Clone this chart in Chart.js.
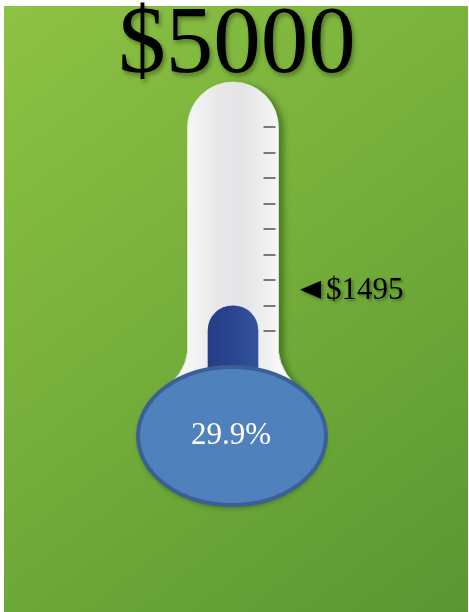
<!DOCTYPE html>
<html>
<head>
<meta charset="utf-8">
<script src="https://cdn.jsdelivr.net/npm/chart.js@4.4.1/dist/chart.umd.min.js"></script>
<style>
  html, body { margin: 0; padding: 0; background: #fff; }
  #wrap { width: 469px; height: 612px; }
</style>
</head>
<body>
<div id="wrap"><canvas id="myChart"></canvas></div>
<script>
const categories = ['Raised'];
const raisedValues = [1495];
const goalValues = [5000];
const tickValues = [1000, 1500, 2000, 2500, 3000, 3500, 4000, 4500, 5000];

const serif = '"Liberation Serif", "Times New Roman", serif';
const pct = (raisedValues[0] / goalValues[0] * 100).toFixed(1) + '%';

// green backdrop, goal heading, glass tube and scale marks
const thermoBack = {
    id: 'thermoBack',
    beforeDraw(chart) {
        const { ctx, width, height } = chart;
        ctx.save();
        ctx.fillStyle = '#ffffff';
        ctx.fillRect(0, 0, width, height);
        const bg = ctx.createLinearGradient(4, 6, width, height);
        bg.addColorStop(0, '#8dc243');
        bg.addColorStop(0.5, '#74ad3a');
        bg.addColorStop(1, '#5a9733');
        ctx.fillStyle = bg;
        ctx.fillRect(4, 6, width - 5, height - 6);

        ctx.font = '95px ' + serif;
        ctx.textAlign = 'center';
        ctx.textBaseline = 'alphabetic';
        ctx.shadowColor = 'rgba(0, 0, 0, 0.35)';
        ctx.shadowBlur = 4;
        ctx.shadowOffsetX = 2;
        ctx.shadowOffsetY = 3;
        ctx.fillStyle = '#000000';
        ctx.fillText('$' + goalValues[0], 237, 72);
        ctx.restore();
    },
    beforeDatasetsDraw(chart) {
        const { ctx, chartArea, scales } = chart;
        const cx = (chartArea.left + chartArea.right) / 2;
        const half = 45.5;
        const l = cx - half, r = cx + half;
        const top = chartArea.top - 45;
        const neck = chartArea.bottom - 30;

        ctx.save();
        ctx.beginPath();
        ctx.moveTo(l, top + half);
        ctx.arc(cx, top + half, half, Math.PI, 0);
        ctx.lineTo(r, neck);
        ctx.quadraticCurveTo(r + 2, neck + 22, r + 28, neck + 44);
        ctx.lineTo(cx, neck + 110);
        ctx.lineTo(l - 30, neck + 44);
        ctx.quadraticCurveTo(l - 2, neck + 22, l, neck);
        ctx.closePath();
        const glass = ctx.createLinearGradient(l, 0, r, 0);
        glass.addColorStop(0, '#f6f6f6');
        glass.addColorStop(0.3, '#e9e9eb');
        glass.addColorStop(0.6, '#e4e4e6');
        glass.addColorStop(0.85, '#efeff0');
        glass.addColorStop(1, '#f8f8f8');
        ctx.shadowColor = 'rgba(20, 50, 10, 0.45)';
        ctx.shadowBlur = 6;
        ctx.shadowOffsetX = 5;
        ctx.shadowOffsetY = 2;
        ctx.fillStyle = glass;
        ctx.fill();
        ctx.shadowColor = 'transparent';
        ctx.strokeStyle = 'rgba(220, 240, 200, 0.8)';
        ctx.lineWidth = 1;
        ctx.stroke();

        ctx.strokeStyle = '#7a7a7a';
        ctx.lineWidth = 2;
        tickValues.forEach(v => {
            const y = Math.round(scales.y.getPixelForValue(v));
            ctx.beginPath();
            ctx.moveTo(r - 15, y);
            ctx.lineTo(r - 3, y);
            ctx.stroke();
        });
        ctx.restore();
    },
    afterDatasetsDraw(chart) {
        const { ctx, chartArea, scales } = chart;
        const cx = (chartArea.left + chartArea.right) / 2 - 1;
        const cy = chartArea.bottom + 54;

        ctx.save();
        ctx.beginPath();
        ctx.ellipse(cx, cy, 94, 69, 0, 0, Math.PI * 2);
        ctx.shadowColor = 'rgba(20, 50, 10, 0.4)';
        ctx.shadowBlur = 5;
        ctx.shadowOffsetY = 3;
        ctx.fillStyle = '#4f81bd';
        ctx.fill();
        ctx.shadowColor = 'transparent';
        ctx.lineWidth = 4;
        ctx.strokeStyle = '#3a6096';
        ctx.stroke();

        ctx.fillStyle = '#ffffff';
        ctx.font = '31px ' + serif;
        ctx.textAlign = 'center';
        ctx.textBaseline = 'middle';
        ctx.fillText(pct, cx - 1, cy);

        // value marker
        const y = scales.y.getPixelForValue(raisedValues[0]) - 16;
        const x = chartArea.right + 17;
        ctx.shadowColor = 'rgba(0, 0, 0, 0.35)';
        ctx.shadowBlur = 3;
        ctx.shadowOffsetX = 2;
        ctx.shadowOffsetY = 2;
        ctx.fillStyle = '#000000';
        ctx.beginPath();
        ctx.moveTo(x, y);
        ctx.lineTo(x + 21, y - 9);
        ctx.lineTo(x + 21, y + 9);
        ctx.closePath();
        ctx.fill();
        ctx.font = '31px ' + serif;
        ctx.textAlign = 'left';
        ctx.fillText('$' + raisedValues[0], x + 26, y + 1);
        ctx.restore();
    }
};

const ctx = document.getElementById('myChart');

new Chart(ctx, {
    type: 'bar',
    data: {
        labels: categories,
        datasets: [{
            label: 'Raised',
            data: raisedValues,
            barThickness: 50,
            borderRadius: { topLeft: 25, topRight: 25 },
            borderSkipped: 'bottom',
            backgroundColor: (context) => {
                const { ctx, chartArea } = context.chart;
                if (!chartArea) {
                    return '#2b4590';
                }
                const cx = (chartArea.left + chartArea.right) / 2;
                const g = ctx.createLinearGradient(cx - 25, 0, cx + 25, 0);
                g.addColorStop(0, '#263c86');
                g.addColorStop(0.6, '#2c4793');
                g.addColorStop(1, '#34539c');
                return g;
            }
        }]
    },
    options: {
        responsive: true,
        maintainAspectRatio: false,
        animation: false,
        layout: {
            padding: { top: 127, bottom: 230, left: 183, right: 186 }
        },
        scales: {
            x: { display: false },
            y: { display: false, min: 0, max: goalValues[0] }
        },
        plugins: {
            legend: { display: false },
            tooltip: { enabled: false },
            title: { display: false }
        }
    },
    plugins: [thermoBack]
});
</script>
</body>
</html>
